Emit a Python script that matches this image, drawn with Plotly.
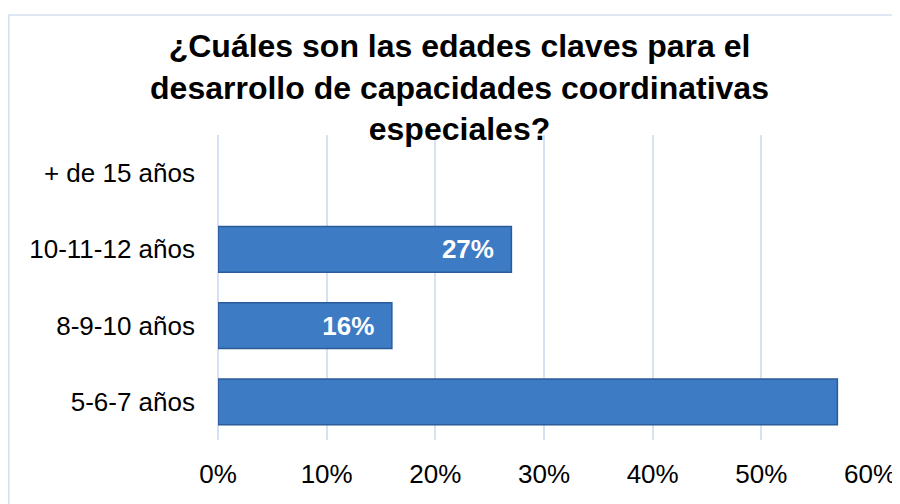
import plotly.graph_objects as go

categories = ["5-6-7 años", "8-9-10 años", "10-11-12 años", "+ de 15 años"]
values = [57, 16, 27, 0]
bar_labels = ["", "16%", "27%", ""]
tick_vals = [0, 10, 20, 30, 40, 50, 60]
tick_text = ["0%", "10%", "20%", "30%", "40%", "50%", "60%"]
title_text = "¿Cuáles son las edades claves para el<br>desarrollo de capacidades coordinativas<br>especiales?"

FONT = "Liberation Sans, Arial"
# page body has an ~8px offset; margins compensate for it
L, R, T, B = 210, 38, 127, 72
PW, PH = 900 - L - R, 504 - T - B

NBSP = "\u00a0"
shown_labels = [t + NBSP * 2 if t else "" for t in bar_labels]

fig = go.Figure()
fig.add_trace(go.Bar(
    y=categories, x=values, orientation="h",
    text=shown_labels, textposition="inside", insidetextanchor="end",
    textfont=dict(family=FONT, size=26, color="white", weight="bold"),
    marker=dict(color="#3D7BC5",
                line=dict(color="#2B5C99", width=[1.5 if v > 0 else 0 for v in values])),
    width=0.6, cliponaxis=False,
))

fig.update_layout(
    width=900, height=504,
    margin=dict(l=L, r=R, t=T, b=B, autoexpand=False),
    paper_bgcolor="white", plot_bgcolor="white",
    showlegend=False,
    title=dict(text=title_text, x=451.5/900, xanchor="center", xref="container",
               y=1 - 49/504, yanchor="top", yref="container",
               font=dict(family=FONT, size=32, color="black", weight="bold")),
    xaxis=dict(range=[0, 60], tickvals=tick_vals, ticktext=tick_text,
               showgrid=True, gridcolor="#D6E2F1", gridwidth=1.5,
               zeroline=True, zerolinecolor="#D6E2F1", zerolinewidth=1.5,
               showline=False, ticks="", ticklabelstandoff=16, automargin=False,
               tickfont=dict(family=FONT, size=26, color="black")),
    yaxis=dict(showgrid=False, showline=False, ticks="", ticklabelstandoff=22,
               automargin=False,
               tickfont=dict(family=FONT, size=26, color="black")),
)

fig.add_shape(type="rect", xref="paper", yref="paper",
              x0=(0.8 - L)/PW, x1=1.2, y0=-0.5, y1=(504 - B - 7)/PH,
              line=dict(color="#D3DFEE", width=1.5), layer="below")

fig.write_html("out.html")
